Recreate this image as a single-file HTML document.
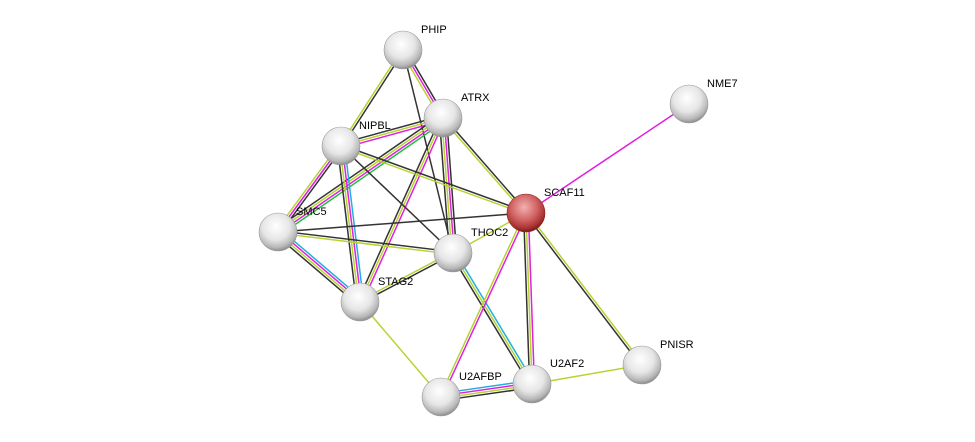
<!DOCTYPE html>
<html><head><meta charset="utf-8"><style>
html,body{margin:0;padding:0;background:#fff;}
svg{display:block;}
text{font-family:"Liberation Sans",Arial,sans-serif;font-size:11px;fill:#000;}
</style></head><body>
<svg id="s" width="975" height="442" xmlns="http://www.w3.org/2000/svg">
<defs>
<radialGradient id="g" cx="0.45" cy="0.35" r="0.65">
<stop offset="0" stop-color="#ffffff"/><stop offset="0.55" stop-color="#e6e6e6"/><stop offset="0.85" stop-color="#b8b8b8"/><stop offset="1" stop-color="#8c8c8c"/></radialGradient>
<radialGradient id="r" cx="0.45" cy="0.35" r="0.65">
<stop offset="0" stop-color="#f2b0b0"/><stop offset="0.55" stop-color="#d06060"/><stop offset="0.85" stop-color="#a83232"/><stop offset="1" stop-color="#7a1a1a"/></radialGradient>
</defs>
<g id="edges"></g><g id="nodes"></g>
</svg>
<script>
var N={PHIP:[403,50],ATRX:[443,118],NIPBL:[341,146],NME7:[689,104],SCAF11:[526,213],SMC5:[278,232],THOC2:[453,253],STAG2:[360,302],PNISR:[642,365],U2AF2:[532,384],U2AFBP:[441,397]};
var K='#333',Y='#b5d431',M='#e020e0',C='#20b0e0',G='#20c040';
var E=[["PHIP","NIPBL",[K,Y]],["PHIP","ATRX",[K,M,Y]],["PHIP","THOC2",[K]],["ATRX","NIPBL",[M,Y,K]],["ATRX","SMC5",[G,M,Y,K]],["ATRX","STAG2",[M,Y,K]],["ATRX","THOC2",[K,M,Y,K]],["ATRX","SCAF11",[K,Y]],["NIPBL","SMC5",[K,M,Y]],["NIPBL","STAG2",[C,M,Y,K]],["NIPBL","THOC2",[K]],["NIPBL","SCAF11",[K,Y]],["SMC5","SCAF11",[K]],["SMC5","THOC2",[K,Y]],["SMC5","STAG2",[C,M,Y,K]],["STAG2","THOC2",[Y,K]],["STAG2","U2AFBP",[Y]],["THOC2","SCAF11",[Y]],["THOC2","U2AF2",[C,Y,K]],["SCAF11","NME7",[M]],["SCAF11","U2AFBP",[M,Y]],["SCAF11","U2AF2",[M,Y,K]],["SCAF11","PNISR",[Y,K]],["U2AFBP","U2AF2",[C,M,Y,K]],["U2AF2","PNISR",[Y]]];
var ns='http://www.w3.org/2000/svg',eg=document.getElementById('edges'),ng=document.getElementById('nodes');
E.forEach(function(e){var a=N[e[0]],b=N[e[1]],dx=b[0]-a[0],dy=b[1]-a[1],l=Math.hypot(dx,dy),px=-dy/l,py=dx/l,n=e[2].length;
e[2].forEach(function(c,i){var o=(i-(n-1)/2)*2.4;var L=document.createElementNS(ns,'line');
L.setAttribute('x1',a[0]+px*o);L.setAttribute('y1',a[1]+py*o);L.setAttribute('x2',b[0]+px*o);L.setAttribute('y2',b[1]+py*o);
L.setAttribute('stroke',c);L.setAttribute('stroke-width','1.5');eg.appendChild(L);});});
for(var k in N){var p=N[k];var c=document.createElementNS(ns,'circle');c.setAttribute('cx',p[0]);c.setAttribute('cy',p[1]);c.setAttribute('r',19);
c.setAttribute('fill',k=='SCAF11'?'url(#r)':'url(#g)');c.setAttribute('stroke',k=='SCAF11'?'#8a2020':'#999');c.setAttribute('stroke-width','0.6');ng.appendChild(c);
var t=document.createElementNS(ns,'text');t.setAttribute('x',p[0]+18);t.setAttribute('y',p[1]-17);t.textContent=k;ng.appendChild(t);}
</script>
</body></html>
